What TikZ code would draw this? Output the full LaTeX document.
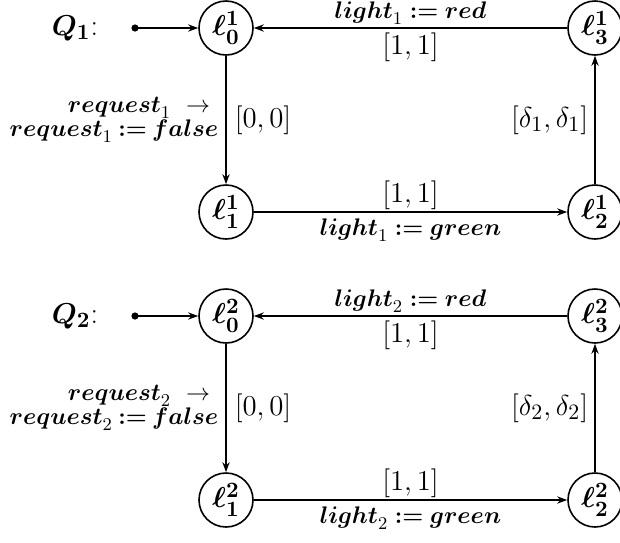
\documentclass[tikz,border=0pt]{standalone}
\usetikzlibrary{arrows.meta}
\newcommand\bv[1]{\mbox{\boldmath$#1$}}
\begin{document}
\begin{tikzpicture}[x=0.5pt,y=-0.5pt,
  every node/.style={font=\fontsize{12.5}{11}\selectfont},
  big/.style={font=\fontsize{15}{17}\selectfont},
  state/.style={circle,draw,line width=0.8pt,minimum size=27pt,inner sep=0pt,big},
  edge/.style={-{Stealth[length=5pt,width=3.6pt]},line width=0.8pt},
  lbl/.style={inner sep=2.5pt},
  blbl/.style={inner sep=2.5pt,big}]
\useasboundingbox (0,0) rectangle (620,542);
% ---------- Q1 ----------
\node[big] (q1) at (75,28) {\bv{Q_1}:};
\coordinate (s1) at (135,28);
\fill (s1) circle (1.8pt);
\node[state] (a0) at (226,28) {\bv{\ell^1_0}};
\node[state] (a1) at (226,212) {\bv{\ell^1_1}};
\node[state] (a2) at (595,212) {\bv{\ell^1_2}};
\node[state] (a3) at (595,28) {\bv{\ell^1_3}};
\draw[edge] (s1) -- (a0);
\draw[edge] (a0) -- (a1)
  node[lbl,midway,left,align=right,inner sep=3.5pt] {$\bv{request}_1\ \rightarrow\ $\\$\bv{request}_1\mathbin{\bv{:=}}\bv{false}$}
  node[blbl,midway,right,inner sep=4pt] {$[0,0]$};
\draw[edge] (a1) -- (a2)
  node[blbl,midway,above,inner sep=1pt] {$[1,1]$}
  node[lbl,midway,below,inner sep=3pt] {$\bv{light}_1 \mathrel{\bv{:=}} \bv{green}$};
\draw[edge] (a2) -- (a3)
  node[blbl,midway,left,inner sep=3pt] {$[\delta_1,\delta_1]$};
\draw[edge] (a3) -- (a0)
  node[lbl,midway,above,inner sep=1.5pt] {$\bv{light}_1 \mathrel{\bv{:=}} \bv{red}$}
  node[blbl,midway,below,inner sep=2pt] {$[1,1]$};
% ---------- Q2 ----------
\node[big] (q2) at (75,316) {\bv{Q_2}:};
\coordinate (s2) at (135,316);
\fill (s2) circle (1.8pt);
\node[state] (b0) at (226,316) {\bv{\ell^2_0}};
\node[state] (b1) at (226,500) {\bv{\ell^2_1}};
\node[state] (b2) at (595,500) {\bv{\ell^2_2}};
\node[state] (b3) at (595,316) {\bv{\ell^2_3}};
\draw[edge] (s2) -- (b0);
\draw[edge] (b0) -- (b1)
  node[lbl,midway,left,align=right,inner sep=3.5pt] {$\bv{request}_2\ \rightarrow\ $\\$\bv{request}_2\mathbin{\bv{:=}}\bv{false}$}
  node[blbl,midway,right,inner sep=4pt] {$[0,0]$};
\draw[edge] (b1) -- (b2)
  node[blbl,midway,above,inner sep=1pt] {$[1,1]$}
  node[lbl,midway,below,inner sep=3pt] {$\bv{light}_2 \mathrel{\bv{:=}} \bv{green}$};
\draw[edge] (b2) -- (b3)
  node[blbl,midway,left,inner sep=3pt] {$[\delta_2,\delta_2]$};
\draw[edge] (b3) -- (b0)
  node[lbl,midway,above,inner sep=1.5pt] {$\bv{light}_2 \mathrel{\bv{:=}} \bv{red}$}
  node[blbl,midway,below,inner sep=2pt] {$[1,1]$};
\end{tikzpicture}
\end{document}
